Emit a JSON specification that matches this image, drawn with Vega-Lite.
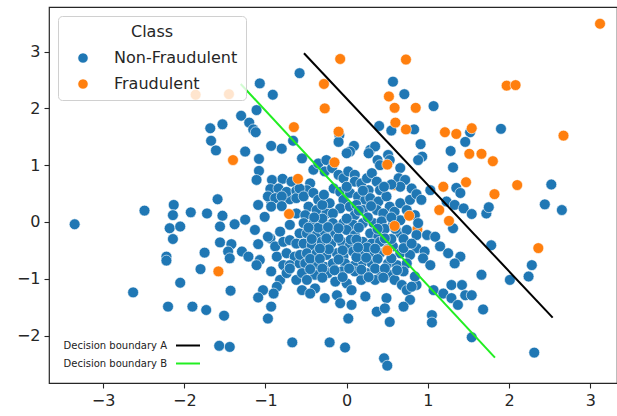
{
"$schema": "https://vega.github.io/schema/vega-lite/v6.json",
"width": 568, "height": 376,
"autosize": {"type": "none"},
"padding": {"left": 49, "top": 7, "right": 0, "bottom": 33},
"background": "white",
"config": {
 "view": {"stroke": "#262626", "strokeWidth": 1.2},
 "font": "DejaVu Sans",
 "axis": {"domain": false, "grid": false, "tickColor": "#262626", "tickSize": 5, "tickWidth": 1.1, "labelFont": "DejaVu Sans", "labelFontSize": 16, "labelColor": "#262626", "title": null}
},
"datasets": {
 "pts": [
  {"x":-0.74,"y":0.51,"Class":"Fraudulent"},{"x":0.87,"y":-0.13,"Class":"Fraudulent"},{"x":0.59,"y":0.65,"Class":"Fraudulent"},
  {"x":-0.58,"y":2.62,"Class":"Non-Fraudulent"},{"x":-1.07,"y":2.44,"Class":"Non-Fraudulent"},{"x":-0.91,"y":2.24,"Class":"Non-Fraudulent"},{"x":-0.93,"y":0.37,"Class":"Non-Fraudulent"},{"x":-0.70,"y":0.40,"Class":"Non-Fraudulent"},
  {"x":-1.11,"y":1.97,"Class":"Non-Fraudulent"},{"x":-1.30,"y":1.87,"Class":"Non-Fraudulent"},{"x":-1.20,"y":1.75,"Class":"Non-Fraudulent"},{"x":-1.15,"y":1.63,"Class":"Non-Fraudulent"},{"x":-1.12,"y":1.58,"Class":"Non-Fraudulent"},{"x":-1.68,"y":1.65,"Class":"Non-Fraudulent"},{"x":-1.53,"y":1.72,"Class":"Non-Fraudulent"},{"x":-1.67,"y":1.43,"Class":"Non-Fraudulent"},{"x":-1.61,"y":1.26,"Class":"Non-Fraudulent"},{"x":-1.25,"y":1.24,"Class":"Non-Fraudulent"},{"x":-0.93,"y":1.34,"Class":"Non-Fraudulent"},{"x":-0.80,"y":1.29,"Class":"Non-Fraudulent"},{"x":-0.66,"y":1.43,"Class":"Non-Fraudulent"},{"x":-1.08,"y":1.11,"Class":"Non-Fraudulent"},{"x":-1.08,"y":0.90,"Class":"Non-Fraudulent"},{"x":-1.11,"y":0.74,"Class":"Non-Fraudulent"},{"x":-0.92,"y":0.74,"Class":"Non-Fraudulent"},{"x":-0.79,"y":0.76,"Class":"Non-Fraudulent"},{"x":-0.68,"y":0.71,"Class":"Non-Fraudulent"},{"x":-0.94,"y":0.58,"Class":"Non-Fraudulent"},{"x":-0.84,"y":0.59,"Class":"Non-Fraudulent"},{"x":-0.74,"y":0.53,"Class":"Non-Fraudulent"},{"x":-0.62,"y":0.55,"Class":"Non-Fraudulent"},{"x":-0.97,"y":0.45,"Class":"Non-Fraudulent"},{"x":-0.88,"y":0.42,"Class":"Non-Fraudulent"},{"x":-0.80,"y":0.45,"Class":"Non-Fraudulent"},{"x":-0.62,"y":0.42,"Class":"Non-Fraudulent"},{"x":-1.09,"y":0.30,"Class":"Non-Fraudulent"},{"x":-0.93,"y":0.27,"Class":"Non-Fraudulent"},{"x":-0.80,"y":0.28,"Class":"Non-Fraudulent"},{"x":-1.59,"y":0.40,"Class":"Non-Fraudulent"},
  {"x":-3.35,"y":-0.04,"Class":"Non-Fraudulent"},{"x":-2.49,"y":0.20,"Class":"Non-Fraudulent"},{"x":-2.13,"y":0.30,"Class":"Non-Fraudulent"},{"x":-2.14,"y":0.12,"Class":"Non-Fraudulent"},{"x":-1.92,"y":0.17,"Class":"Non-Fraudulent"},{"x":-2.18,"y":-0.11,"Class":"Non-Fraudulent"},{"x":-2.05,"y":-0.08,"Class":"Non-Fraudulent"},{"x":-2.14,"y":-0.30,"Class":"Non-Fraudulent"},{"x":-2.22,"y":-0.61,"Class":"Non-Fraudulent"},{"x":-2.22,"y":-0.68,"Class":"Non-Fraudulent"},{"x":-2.05,"y":-1.07,"Class":"Non-Fraudulent"},{"x":-2.63,"y":-1.24,"Class":"Non-Fraudulent"},{"x":-2.20,"y":-1.49,"Class":"Non-Fraudulent"},{"x":-1.57,"y":-2.18,"Class":"Non-Fraudulent"},{"x":-1.44,"y":-2.20,"Class":"Non-Fraudulent"},{"x":-0.67,"y":-2.12,"Class":"Non-Fraudulent"},
  {"x":-1.72,"y":0.15,"Class":"Non-Fraudulent"},{"x":-1.53,"y":0.11,"Class":"Non-Fraudulent"},{"x":-1.56,"y":-0.08,"Class":"Non-Fraudulent"},{"x":-1.38,"y":-0.04,"Class":"Non-Fraudulent"},{"x":-1.25,"y":0.04,"Class":"Non-Fraudulent"},{"x":-1.13,"y":-0.14,"Class":"Non-Fraudulent"},{"x":-1.01,"y":0.09,"Class":"Non-Fraudulent"},{"x":-0.94,"y":-0.29,"Class":"Non-Fraudulent"},{"x":-0.82,"y":-0.17,"Class":"Non-Fraudulent"},{"x":-0.70,"y":-0.05,"Class":"Non-Fraudulent"},{"x":-0.62,"y":0.15,"Class":"Non-Fraudulent"},{"x":-0.58,"y":-0.20,"Class":"Non-Fraudulent"},{"x":-1.56,"y":-0.36,"Class":"Non-Fraudulent"},{"x":-1.42,"y":-0.39,"Class":"Non-Fraudulent"},{"x":-1.46,"y":-0.52,"Class":"Non-Fraudulent"},{"x":-1.29,"y":-0.52,"Class":"Non-Fraudulent"},{"x":-1.21,"y":-0.61,"Class":"Non-Fraudulent"},{"x":-1.44,"y":-0.64,"Class":"Non-Fraudulent"},{"x":-1.09,"y":-0.39,"Class":"Non-Fraudulent"},{"x":-1.07,"y":-0.67,"Class":"Non-Fraudulent"},{"x":-1.11,"y":-0.76,"Class":"Non-Fraudulent"},{"x":-0.97,"y":-0.26,"Class":"Non-Fraudulent"},{"x":-0.88,"y":-0.43,"Class":"Non-Fraudulent"},{"x":-0.78,"y":-0.35,"Class":"Non-Fraudulent"},{"x":-0.70,"y":-0.32,"Class":"Non-Fraudulent"},{"x":-0.62,"y":-0.38,"Class":"Non-Fraudulent"},{"x":-0.86,"y":-0.61,"Class":"Non-Fraudulent"},{"x":-0.74,"y":-0.55,"Class":"Non-Fraudulent"},{"x":-0.64,"y":-0.61,"Class":"Non-Fraudulent"},{"x":-0.78,"y":-0.76,"Class":"Non-Fraudulent"},{"x":-0.70,"y":-0.76,"Class":"Non-Fraudulent"},{"x":-0.58,"y":-0.73,"Class":"Non-Fraudulent"},{"x":-0.93,"y":-0.87,"Class":"Non-Fraudulent"},{"x":-0.82,"y":-1.02,"Class":"Non-Fraudulent"},{"x":-0.74,"y":-0.90,"Class":"Non-Fraudulent"},{"x":-0.86,"y":-1.14,"Class":"Non-Fraudulent"},{"x":-0.90,"y":-1.26,"Class":"Non-Fraudulent"},{"x":-1.03,"y":-1.20,"Class":"Non-Fraudulent"},{"x":-1.09,"y":-1.33,"Class":"Non-Fraudulent"},{"x":-0.70,"y":-0.82,"Class":"Non-Fraudulent"},{"x":-0.62,"y":-1.02,"Class":"Non-Fraudulent"},{"x":-0.55,"y":-1.20,"Class":"Non-Fraudulent"},{"x":-1.75,"y":-0.54,"Class":"Non-Fraudulent"},{"x":-1.80,"y":-0.83,"Class":"Non-Fraudulent"},{"x":-1.43,"y":-1.21,"Class":"Non-Fraudulent"},{"x":-1.90,"y":-1.49,"Class":"Non-Fraudulent"},{"x":-1.73,"y":-1.55,"Class":"Non-Fraudulent"},{"x":-1.51,"y":-1.65,"Class":"Non-Fraudulent"},{"x":-0.93,"y":-1.49,"Class":"Non-Fraudulent"},{"x":-0.97,"y":-1.70,"Class":"Non-Fraudulent"},
  {"x":0.40,"y":1.69,"Class":"Non-Fraudulent"},{"x":0.55,"y":1.61,"Class":"Non-Fraudulent"},{"x":-0.09,"y":1.53,"Class":"Non-Fraudulent"},{"x":-0.10,"y":1.41,"Class":"Non-Fraudulent"},{"x":0.09,"y":1.34,"Class":"Non-Fraudulent"},{"x":0.04,"y":1.24,"Class":"Non-Fraudulent"},{"x":0.00,"y":1.21,"Class":"Non-Fraudulent"},{"x":0.29,"y":1.27,"Class":"Non-Fraudulent"},{"x":0.35,"y":1.33,"Class":"Non-Fraudulent"},{"x":0.27,"y":1.21,"Class":"Non-Fraudulent"},{"x":0.51,"y":1.18,"Class":"Non-Fraudulent"},{"x":0.53,"y":1.09,"Class":"Non-Fraudulent"},{"x":0.38,"y":1.09,"Class":"Non-Fraudulent"},{"x":0.41,"y":1.00,"Class":"Non-Fraudulent"},{"x":0.66,"y":0.95,"Class":"Non-Fraudulent"},{"x":-0.55,"y":1.12,"Class":"Non-Fraudulent"},{"x":-0.41,"y":0.92,"Class":"Non-Fraudulent"},{"x":-0.35,"y":1.03,"Class":"Non-Fraudulent"},{"x":-0.25,"y":1.09,"Class":"Non-Fraudulent"},{"x":-0.27,"y":0.89,"Class":"Non-Fraudulent"},{"x":-0.18,"y":0.95,"Class":"Non-Fraudulent"},{"x":-0.10,"y":0.83,"Class":"Non-Fraudulent"},{"x":-0.04,"y":0.77,"Class":"Non-Fraudulent"},{"x":0.02,"y":0.89,"Class":"Non-Fraudulent"},{"x":0.10,"y":0.83,"Class":"Non-Fraudulent"},{"x":0.10,"y":0.71,"Class":"Non-Fraudulent"},{"x":0.18,"y":0.68,"Class":"Non-Fraudulent"},{"x":0.25,"y":0.77,"Class":"Non-Fraudulent"},{"x":0.31,"y":0.86,"Class":"Non-Fraudulent"},{"x":0.37,"y":0.71,"Class":"Non-Fraudulent"},{"x":0.27,"y":0.56,"Class":"Non-Fraudulent"},{"x":0.41,"y":0.56,"Class":"Non-Fraudulent"},{"x":0.64,"y":0.77,"Class":"Non-Fraudulent"},{"x":0.72,"y":0.74,"Class":"Non-Fraudulent"},{"x":0.66,"y":0.62,"Class":"Non-Fraudulent"},{"x":0.55,"y":0.66,"Class":"Non-Fraudulent"},{"x":-0.45,"y":0.68,"Class":"Non-Fraudulent"},{"x":-0.49,"y":0.56,"Class":"Non-Fraudulent"},{"x":-0.58,"y":0.59,"Class":"Non-Fraudulent"},{"x":-0.53,"y":0.45,"Class":"Non-Fraudulent"},{"x":-0.41,"y":0.51,"Class":"Non-Fraudulent"},{"x":-0.35,"y":0.39,"Class":"Non-Fraudulent"},{"x":-0.47,"y":0.27,"Class":"Non-Fraudulent"},{"x":-0.51,"y":0.12,"Class":"Non-Fraudulent"},{"x":-0.37,"y":0.21,"Class":"Non-Fraudulent"},{"x":-0.25,"y":0.15,"Class":"Non-Fraudulent"},{"x":-0.21,"y":0.33,"Class":"Non-Fraudulent"},{"x":-0.16,"y":0.59,"Class":"Non-Fraudulent"},{"x":-0.08,"y":0.53,"Class":"Non-Fraudulent"},{"x":-0.04,"y":0.39,"Class":"Non-Fraudulent"},{"x":0.04,"y":0.51,"Class":"Non-Fraudulent"},{"x":0.14,"y":0.45,"Class":"Non-Fraudulent"},{"x":0.23,"y":0.39,"Class":"Non-Fraudulent"},{"x":-0.08,"y":0.24,"Class":"Non-Fraudulent"},{"x":0.04,"y":0.27,"Class":"Non-Fraudulent"},{"x":0.12,"y":0.30,"Class":"Non-Fraudulent"},{"x":0.20,"y":0.21,"Class":"Non-Fraudulent"},{"x":0.29,"y":0.42,"Class":"Non-Fraudulent"},{"x":0.39,"y":0.36,"Class":"Non-Fraudulent"},{"x":0.37,"y":0.21,"Class":"Non-Fraudulent"},{"x":0.49,"y":0.45,"Class":"Non-Fraudulent"},{"x":0.53,"y":0.27,"Class":"Non-Fraudulent"},{"x":0.45,"y":0.15,"Class":"Non-Fraudulent"},{"x":0.59,"y":0.18,"Class":"Non-Fraudulent"},{"x":0.66,"y":0.33,"Class":"Non-Fraudulent"},{"x":0.74,"y":0.21,"Class":"Non-Fraudulent"},{"x":0.78,"y":0.39,"Class":"Non-Fraudulent"},{"x":0.84,"y":0.12,"Class":"Non-Fraudulent"},
  {"x":0.57,"y":2.47,"Class":"Non-Fraudulent"},{"x":0.71,"y":2.25,"Class":"Non-Fraudulent"},{"x":2.52,"y":0.66,"Class":"Non-Fraudulent"},{"x":2.44,"y":0.31,"Class":"Non-Fraudulent"},{"x":2.65,"y":0.21,"Class":"Non-Fraudulent"},
  {"x":1.07,"y":2.04,"Class":"Non-Fraudulent"},{"x":0.83,"y":1.63,"Class":"Non-Fraudulent"},{"x":1.90,"y":1.64,"Class":"Non-Fraudulent"},{"x":1.52,"y":1.58,"Class":"Non-Fraudulent"},{"x":1.46,"y":1.41,"Class":"Non-Fraudulent"},{"x":0.91,"y":1.37,"Class":"Non-Fraudulent"},{"x":1.28,"y":1.25,"Class":"Non-Fraudulent"},{"x":0.93,"y":1.15,"Class":"Non-Fraudulent"},{"x":0.88,"y":1.09,"Class":"Non-Fraudulent"},{"x":1.31,"y":0.96,"Class":"Non-Fraudulent"},{"x":0.80,"y":0.59,"Class":"Non-Fraudulent"},{"x":0.86,"y":0.49,"Class":"Non-Fraudulent"},{"x":0.92,"y":0.39,"Class":"Non-Fraudulent"},{"x":1.03,"y":0.56,"Class":"Non-Fraudulent"},{"x":1.35,"y":0.60,"Class":"Non-Fraudulent"},{"x":1.40,"y":0.51,"Class":"Non-Fraudulent"},{"x":1.23,"y":0.36,"Class":"Non-Fraudulent"},{"x":1.33,"y":0.30,"Class":"Non-Fraudulent"},{"x":1.44,"y":0.24,"Class":"Non-Fraudulent"},{"x":1.54,"y":0.14,"Class":"Non-Fraudulent"},{"x":1.72,"y":0.15,"Class":"Non-Fraudulent"},{"x":1.75,"y":0.26,"Class":"Non-Fraudulent"},
  {"x":-0.17,"y":0.15,"Class":"Non-Fraudulent"},{"x":0.10,"y":0.12,"Class":"Non-Fraudulent"},
  {"x":-0.53,"y":-0.02,"Class":"Non-Fraudulent"},{"x":-0.41,"y":-0.02,"Class":"Non-Fraudulent"},{"x":-0.29,"y":-0.02,"Class":"Non-Fraudulent"},{"x":-0.17,"y":-0.02,"Class":"Non-Fraudulent"},{"x":-0.04,"y":-0.02,"Class":"Non-Fraudulent"},{"x":0.08,"y":-0.05,"Class":"Non-Fraudulent"},{"x":0.20,"y":-0.02,"Class":"Non-Fraudulent"},{"x":0.33,"y":-0.02,"Class":"Non-Fraudulent"},{"x":0.43,"y":0.01,"Class":"Non-Fraudulent"},{"x":0.57,"y":-0.05,"Class":"Non-Fraudulent"},{"x":0.66,"y":0.03,"Class":"Non-Fraudulent"},
  {"x":-0.49,"y":-0.20,"Class":"Non-Fraudulent"},{"x":-0.37,"y":-0.23,"Class":"Non-Fraudulent"},{"x":-0.27,"y":-0.17,"Class":"Non-Fraudulent"},{"x":-0.14,"y":-0.20,"Class":"Non-Fraudulent"},{"x":0.00,"y":-0.14,"Class":"Non-Fraudulent"},{"x":0.10,"y":-0.23,"Class":"Non-Fraudulent"},{"x":0.29,"y":-0.20,"Class":"Non-Fraudulent"},{"x":0.39,"y":-0.26,"Class":"Non-Fraudulent"},{"x":0.66,"y":-0.20,"Class":"Non-Fraudulent"},{"x":0.74,"y":-0.14,"Class":"Non-Fraudulent"},{"x":0.86,"y":-0.23,"Class":"Non-Fraudulent"},
  {"x":-0.53,"y":-0.38,"Class":"Non-Fraudulent"},{"x":-0.43,"y":-0.41,"Class":"Non-Fraudulent"},{"x":-0.31,"y":-0.35,"Class":"Non-Fraudulent"},{"x":-0.19,"y":-0.38,"Class":"Non-Fraudulent"},{"x":-0.06,"y":-0.35,"Class":"Non-Fraudulent"},{"x":0.04,"y":-0.41,"Class":"Non-Fraudulent"},{"x":0.20,"y":-0.35,"Class":"Non-Fraudulent"},{"x":0.31,"y":-0.38,"Class":"Non-Fraudulent"},{"x":0.41,"y":-0.35,"Class":"Non-Fraudulent"},{"x":0.57,"y":-0.43,"Class":"Non-Fraudulent"},{"x":0.76,"y":-0.38,"Class":"Non-Fraudulent"},{"x":0.86,"y":-0.46,"Class":"Non-Fraudulent"},
  {"x":-0.575,"y":-0.58,"Class":"Non-Fraudulent"},{"x":-0.49,"y":-0.55,"Class":"Non-Fraudulent"},{"x":-0.37,"y":-0.55,"Class":"Non-Fraudulent"},{"x":-0.25,"y":-0.58,"Class":"Non-Fraudulent"},{"x":-0.12,"y":-0.55,"Class":"Non-Fraudulent"},{"x":-0.04,"y":-0.61,"Class":"Non-Fraudulent"},{"x":0.08,"y":-0.52,"Class":"Non-Fraudulent"},{"x":0.18,"y":-0.52,"Class":"Non-Fraudulent"},{"x":0.29,"y":-0.55,"Class":"Non-Fraudulent"},{"x":0.41,"y":-0.55,"Class":"Non-Fraudulent"},{"x":0.66,"y":-0.55,"Class":"Non-Fraudulent"},{"x":0.78,"y":-0.58,"Class":"Non-Fraudulent"},
  {"x":-0.51,"y":-0.73,"Class":"Non-Fraudulent"},{"x":-0.39,"y":-0.76,"Class":"Non-Fraudulent"},{"x":-0.27,"y":-0.79,"Class":"Non-Fraudulent"},{"x":-0.17,"y":-0.73,"Class":"Non-Fraudulent"},{"x":-0.02,"y":-0.73,"Class":"Non-Fraudulent"},{"x":0.10,"y":-0.76,"Class":"Non-Fraudulent"},{"x":0.20,"y":-0.70,"Class":"Non-Fraudulent"},{"x":0.31,"y":-0.73,"Class":"Non-Fraudulent"},{"x":0.51,"y":-0.73,"Class":"Non-Fraudulent"},{"x":0.62,"y":-0.76,"Class":"Non-Fraudulent"},{"x":0.74,"y":-0.73,"Class":"Non-Fraudulent"},
  {"x":-0.55,"y":-0.90,"Class":"Non-Fraudulent"},{"x":-0.39,"y":-0.93,"Class":"Non-Fraudulent"},{"x":-0.23,"y":-0.90,"Class":"Non-Fraudulent"},{"x":-0.06,"y":-0.87,"Class":"Non-Fraudulent"},{"x":0.10,"y":-0.87,"Class":"Non-Fraudulent"},{"x":0.25,"y":-0.90,"Class":"Non-Fraudulent"},{"x":0.41,"y":-0.87,"Class":"Non-Fraudulent"},{"x":0.53,"y":-0.93,"Class":"Non-Fraudulent"},{"x":0.70,"y":-0.87,"Class":"Non-Fraudulent"},
  {"x":-0.49,"y":-1.02,"Class":"Non-Fraudulent"},{"x":-0.39,"y":-1.17,"Class":"Non-Fraudulent"},{"x":-0.14,"y":-1.05,"Class":"Non-Fraudulent"},{"x":0.00,"y":-1.08,"Class":"Non-Fraudulent"},{"x":0.18,"y":-1.02,"Class":"Non-Fraudulent"},{"x":0.35,"y":-1.02,"Class":"Non-Fraudulent"},{"x":0.59,"y":-1.02,"Class":"Non-Fraudulent"},{"x":0.68,"y":-1.11,"Class":"Non-Fraudulent"},{"x":0.86,"y":-1.11,"Class":"Non-Fraudulent"},{"x":0.74,"y":-1.20,"Class":"Non-Fraudulent"},
  {"x":-0.45,"y":-1.26,"Class":"Non-Fraudulent"},{"x":-0.27,"y":-1.34,"Class":"Non-Fraudulent"},{"x":-0.12,"y":-1.29,"Class":"Non-Fraudulent"},{"x":0.06,"y":-1.20,"Class":"Non-Fraudulent"},{"x":0.23,"y":-1.31,"Class":"Non-Fraudulent"},{"x":0.49,"y":-1.34,"Class":"Non-Fraudulent"},{"x":0.78,"y":-1.37,"Class":"Non-Fraudulent"},
  {"x":-0.08,"y":-1.43,"Class":"Non-Fraudulent"},{"x":0.06,"y":-1.46,"Class":"Non-Fraudulent"},{"x":0.37,"y":-1.58,"Class":"Non-Fraudulent"},{"x":0.47,"y":-1.52,"Class":"Non-Fraudulent"},{"x":0.70,"y":-1.49,"Class":"Non-Fraudulent"},{"x":0.02,"y":-1.70,"Class":"Non-Fraudulent"},{"x":0.53,"y":-1.76,"Class":"Non-Fraudulent"},
  {"x":-0.35,"y":-0.10,"Class":"Non-Fraudulent"},{"x":-0.10,"y":-0.28,"Class":"Non-Fraudulent"},{"x":0.15,"y":-0.10,"Class":"Non-Fraudulent"},{"x":0.25,"y":-0.45,"Class":"Non-Fraudulent"},{"x":-0.22,"y":-0.48,"Class":"Non-Fraudulent"},{"x":0.12,"y":-0.62,"Class":"Non-Fraudulent"},{"x":-0.45,"y":-0.65,"Class":"Non-Fraudulent"},{"x":0.38,"y":-0.65,"Class":"Non-Fraudulent"},{"x":0.47,"y":-0.12,"Class":"Non-Fraudulent"},{"x":-0.05,"y":-0.50,"Class":"Non-Fraudulent"},{"x":0.00,"y":0.06,"Class":"Non-Fraudulent"},{"x":-0.30,"y":0.06,"Class":"Non-Fraudulent"},{"x":0.26,"y":0.08,"Class":"Non-Fraudulent"},{"x":0.55,"y":-0.30,"Class":"Non-Fraudulent"},{"x":-0.15,"y":-0.85,"Class":"Non-Fraudulent"},{"x":0.35,"y":-0.82,"Class":"Non-Fraudulent"},
  {"x":-0.47,"y":-0.10,"Class":"Non-Fraudulent"},{"x":-0.23,"y":-0.09,"Class":"Non-Fraudulent"},{"x":-0.10,"y":-0.11,"Class":"Non-Fraudulent"},{"x":0.05,"y":-0.31,"Class":"Non-Fraudulent"},{"x":0.38,"y":-0.12,"Class":"Non-Fraudulent"},{"x":0.60,"y":-0.12,"Class":"Non-Fraudulent"},{"x":-0.43,"y":-0.30,"Class":"Non-Fraudulent"},{"x":-0.25,"y":-0.29,"Class":"Non-Fraudulent"},{"x":0.12,"y":-0.31,"Class":"Non-Fraudulent"},{"x":0.47,"y":-0.29,"Class":"Non-Fraudulent"},{"x":0.70,"y":-0.30,"Class":"Non-Fraudulent"},{"x":-0.33,"y":-0.47,"Class":"Non-Fraudulent"},{"x":0.14,"y":-0.45,"Class":"Non-Fraudulent"},{"x":0.35,"y":-0.47,"Class":"Non-Fraudulent"},{"x":0.50,"y":-0.48,"Class":"Non-Fraudulent"},{"x":0.70,"y":-0.46,"Class":"Non-Fraudulent"},{"x":-0.33,"y":-0.65,"Class":"Non-Fraudulent"},{"x":-0.10,"y":-0.66,"Class":"Non-Fraudulent"},{"x":0.24,"y":-0.63,"Class":"Non-Fraudulent"},{"x":0.55,"y":-0.64,"Class":"Non-Fraudulent"},{"x":-0.45,"y":-0.83,"Class":"Non-Fraudulent"},{"x":-0.30,"y":-0.82,"Class":"Non-Fraudulent"},{"x":0.03,"y":-0.82,"Class":"Non-Fraudulent"},{"x":0.18,"y":-0.84,"Class":"Non-Fraudulent"},{"x":0.47,"y":-0.82,"Class":"Non-Fraudulent"},{"x":0.62,"y":-0.85,"Class":"Non-Fraudulent"},{"x":-0.30,"y":-0.98,"Class":"Non-Fraudulent"},{"x":-0.05,"y":-0.97,"Class":"Non-Fraudulent"},{"x":0.27,"y":-0.97,"Class":"Non-Fraudulent"},{"x":0.45,"y":-0.98,"Class":"Non-Fraudulent"},{"x":-0.40,"y":0.08,"Class":"Non-Fraudulent"},{"x":0.55,"y":0.08,"Class":"Non-Fraudulent"},{"x":0.15,"y":0.20,"Class":"Non-Fraudulent"},{"x":-0.30,"y":0.30,"Class":"Non-Fraudulent"},{"x":0.30,"y":0.28,"Class":"Non-Fraudulent"},{"x":0.00,"y":0.62,"Class":"Non-Fraudulent"},{"x":0.20,"y":0.55,"Class":"Non-Fraudulent"},{"x":-0.28,"y":0.48,"Class":"Non-Fraudulent"},{"x":0.46,"y":0.62,"Class":"Non-Fraudulent"},
  {"x":0.88,"y":-0.02,"Class":"Non-Fraudulent"},{"x":0.99,"y":-0.23,"Class":"Non-Fraudulent"},{"x":1.09,"y":-0.26,"Class":"Non-Fraudulent"},{"x":0.80,"y":-0.38,"Class":"Non-Fraudulent"},{"x":1.31,"y":-0.11,"Class":"Non-Fraudulent"},{"x":1.15,"y":-0.43,"Class":"Non-Fraudulent"},{"x":1.25,"y":-0.55,"Class":"Non-Fraudulent"},{"x":1.40,"y":-0.61,"Class":"Non-Fraudulent"},{"x":1.33,"y":-0.73,"Class":"Non-Fraudulent"},{"x":0.96,"y":-0.52,"Class":"Non-Fraudulent"},{"x":0.94,"y":-0.64,"Class":"Non-Fraudulent"},{"x":1.03,"y":-0.76,"Class":"Non-Fraudulent"},{"x":1.78,"y":-0.41,"Class":"Non-Fraudulent"},{"x":1.66,"y":-0.93,"Class":"Non-Fraudulent"},{"x":2.01,"y":-1.02,"Class":"Non-Fraudulent"},{"x":2.24,"y":-0.96,"Class":"Non-Fraudulent"},{"x":0.84,"y":-0.96,"Class":"Non-Fraudulent"},{"x":0.80,"y":-1.14,"Class":"Non-Fraudulent"},{"x":1.07,"y":-1.20,"Class":"Non-Fraudulent"},{"x":1.19,"y":-1.26,"Class":"Non-Fraudulent"},{"x":1.29,"y":-1.11,"Class":"Non-Fraudulent"},{"x":1.29,"y":-1.34,"Class":"Non-Fraudulent"},{"x":1.42,"y":-1.11,"Class":"Non-Fraudulent"},{"x":1.37,"y":-1.46,"Class":"Non-Fraudulent"},{"x":1.46,"y":-1.29,"Class":"Non-Fraudulent"},{"x":1.54,"y":-1.29,"Class":"Non-Fraudulent"},{"x":1.68,"y":-1.54,"Class":"Non-Fraudulent"},{"x":1.05,"y":-1.64,"Class":"Non-Fraudulent"},{"x":1.05,"y":-1.77,"Class":"Non-Fraudulent"},
  {"x":-0.21,"y":-2.12,"Class":"Non-Fraudulent"},{"x":-0.02,"y":-2.21,"Class":"Non-Fraudulent"},{"x":0.46,"y":-2.40,"Class":"Non-Fraudulent"},{"x":0.50,"y":-2.53,"Class":"Non-Fraudulent"},{"x":1.54,"y":-2.03,"Class":"Non-Fraudulent"},{"x":2.31,"y":-2.30,"Class":"Non-Fraudulent"},{"x":2.28,"y":-0.76,"Class":"Non-Fraudulent"},
  {"x":3.12,"y":3.49,"Class":"Fraudulent"},{"x":-0.08,"y":2.87,"Class":"Fraudulent"},{"x":0.73,"y":2.86,"Class":"Fraudulent"},{"x":-0.28,"y":2.43,"Class":"Fraudulent"},{"x":-0.27,"y":2.00,"Class":"Fraudulent"},{"x":0.52,"y":2.21,"Class":"Fraudulent"},{"x":0.59,"y":2.01,"Class":"Fraudulent"},{"x":0.85,"y":2.01,"Class":"Fraudulent"},{"x":0.60,"y":1.75,"Class":"Fraudulent"},{"x":0.73,"y":1.63,"Class":"Fraudulent"},{"x":1.97,"y":2.40,"Class":"Fraudulent"},{"x":2.08,"y":2.41,"Class":"Fraudulent"},{"x":2.67,"y":1.52,"Class":"Fraudulent"},{"x":1.21,"y":1.58,"Class":"Fraudulent"},{"x":1.35,"y":1.55,"Class":"Fraudulent"},{"x":1.54,"y":1.65,"Class":"Fraudulent"},{"x":1.51,"y":1.20,"Class":"Fraudulent"},{"x":1.66,"y":1.20,"Class":"Fraudulent"},{"x":1.80,"y":1.07,"Class":"Fraudulent"},{"x":-0.10,"y":1.59,"Class":"Fraudulent"},{"x":-0.15,"y":1.05,"Class":"Fraudulent"},{"x":0.50,"y":1.01,"Class":"Fraudulent"},{"x":1.47,"y":0.70,"Class":"Fraudulent"},{"x":1.19,"y":0.62,"Class":"Fraudulent"},{"x":2.10,"y":0.65,"Class":"Fraudulent"},{"x":1.82,"y":0.49,"Class":"Fraudulent"},{"x":-0.65,"y":1.67,"Class":"Fraudulent"},{"x":-1.40,"y":1.09,"Class":"Fraudulent"},{"x":-0.60,"y":0.76,"Class":"Fraudulent"},{"x":-1.86,"y":2.24,"Class":"Fraudulent"},{"x":-1.45,"y":2.25,"Class":"Fraudulent"},{"x":-1.58,"y":-0.87,"Class":"Fraudulent"},{"x":-0.71,"y":0.14,"Class":"Fraudulent"},{"x":0.77,"y":0.11,"Class":"Fraudulent"},{"x":1.14,"y":0.21,"Class":"Fraudulent"},{"x":1.26,"y":0.02,"Class":"Fraudulent"},{"x":0.59,"y":-0.07,"Class":"Fraudulent"},{"x":0.50,"y":-0.50,"Class":"Fraudulent"},{"x":2.36,"y":-0.46,"Class":"Fraudulent"}
 ],
 "lines": [
  {"x":-0.526,"y":2.97,"boundary":"Decision boundary A"},{"x":2.537,"y":-1.685,"boundary":"Decision boundary A"},
  {"x":-1.305,"y":2.43,"boundary":"Decision boundary B"},{"x":1.826,"y":-2.389,"boundary":"Decision boundary B"}
 ]
},
"layer": [
 {"data": {"name": "pts"},
  "mark": {"type": "point", "filled": true, "shape": "circle", "size": 118, "stroke": "white", "strokeWidth": 0.6, "opacity": 1},
  "encoding": {
   "x": {"field": "x", "type": "quantitative", "scale": {"domain": [-3.666, 3.329], "nice": false, "zero": false}, "axis": {"values": [-3,-2,-1,0,1,2,3], "format": "d", "labelPadding": 4}},
   "y": {"field": "y", "type": "quantitative", "scale": {"domain": [-2.835, 3.785], "nice": false, "zero": false}, "axis": {"values": [-2,-1,0,1,2,3], "format": "d", "labelPadding": 4}},
   "fill": {"field": "Class", "type": "nominal", "scale": {"domain": ["Non-Fraudulent", "Fraudulent"], "range": ["#1f77b4", "#ff7f0e"]},
    "legend": {"title": "Class", "orient": "none", "legendX": 9, "legendY": 9, "padding": 8, "titleFontSize": 16, "labelFontSize": 16, "titleFont": "DejaVu Sans", "labelFont": "DejaVu Sans", "titleFontWeight": "normal", "titleAnchor": "middle", "titleAlign": "center", "titleColor": "#262626", "labelColor": "#262626", "symbolType": "circle", "symbolSize": 105, "symbolStrokeColor": "white", "symbolStrokeWidth": 0.6, "symbolOffset": 9, "labelOffset": 23, "rowPadding": 10, "titlePadding": 10, "strokeColor": "#d0d0d0", "fillColor": "rgba(255,255,255,0.8)", "cornerRadius": 4}}
  }},
 {"data": {"name": "lines"},
  "mark": {"type": "line", "strokeWidth": 2},
  "encoding": {
   "x": {"field": "x", "type": "quantitative"},
   "y": {"field": "y", "type": "quantitative"},
   "stroke": {"field": "boundary", "type": "nominal", "scale": {"domain": ["Decision boundary A", "Decision boundary B"], "range": ["#000000", "#22ee22"]},
    "legend": {"title": null, "orient": "none", "legendX": 126, "legendY": 325.5, "padding": 0, "symbolType": "stroke", "symbolSize": 576, "symbolStrokeWidth": 2, "labelFontSize": 10, "labelFont": "DejaVu Sans", "labelColor": "#222222", "labelAlign": "right", "labelOffset": -34, "symbolOffset": 0, "rowPadding": 0}}
  }}
]
}
